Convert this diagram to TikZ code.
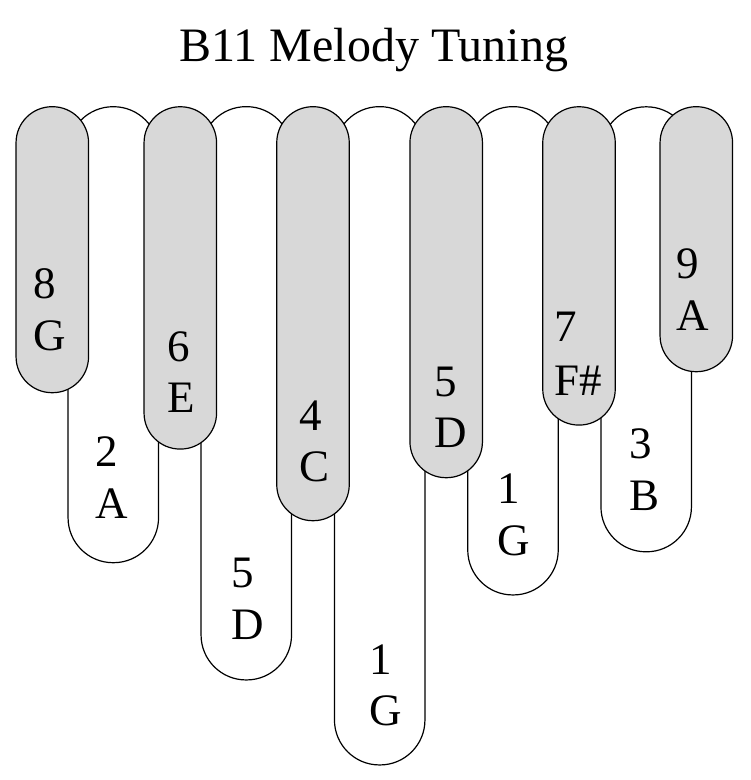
\documentclass[tikz,border=0pt]{standalone}
\usepackage{fontspec}
\setmainfont{Liberation Serif}
\definecolor{keygrey}{RGB}{216,216,216}
\begin{document}
\begin{tikzpicture}[x=1pt,y=-1pt,
  topkey/.style={draw=black, line width=1.2pt, fill=keygrey, rectangle, rounded corners=36pt, minimum width=72.5pt, inner sep=0pt, outer sep=0pt},
  lowkey/.style={draw=black, line width=1.2pt, fill=white, rectangle, rounded corners=45pt, minimum width=90.5pt, inner sep=0pt, outer sep=0pt},
  lbl/.style={anchor=base west, inner sep=0pt, outer sep=0pt, font=\fontsize{45}{54}\selectfont},
  ttl/.style={anchor=base, inner sep=0pt, font=\fontsize{48}{58}\selectfont}]
\useasboundingbox[fill=white] (0,0) rectangle (751,780);
% title
\node[ttl] (title) at (374,61.7) {B11 Melody Tuning};
% lower (white) keys
\node[lowkey, minimum height=456pt]   (w1) at (113.3,334.7) {};
\node[lowkey, minimum height=573.3pt] (w2) at (246.3,393.3) {};
\node[lowkey, minimum height=658.3pt] (w3) at (379.7,435.8) {};
\node[lowkey, minimum height=488.3pt] (w4) at (513,350.8) {};
\node[lowkey, minimum height=445pt]   (w5) at (646.2,329.3) {};
% upper (grey) keys
\node[topkey, minimum height=286pt]   (g1) at (52.3,249.7) {};
\node[topkey, minimum height=342.3pt] (g2) at (180.3,277.9) {};
\node[topkey, minimum height=414pt]   (g3) at (313,313.7) {};
\node[topkey, minimum height=371pt]   (g4) at (446.2,292.2) {};
\node[topkey, minimum height=318.3pt] (g5) at (579,265.9) {};
\node[topkey, minimum height=265pt]   (g6) at (696.3,239.2) {};
% labels on grey keys
\node[lbl] (g1n) at (34,298) {8};
\node[lbl] (g1l) at (34,350) {G};
\node[lbl] (g2n) at (167,361.7) {6};
\node[lbl] (g2l) at (167,412.7) {E};
\node[lbl] (g3n) at (299,430) {4};
\node[lbl] (g3l) at (299,481) {C};
\node[lbl] (g4n) at (434,396.7) {5};
\node[lbl] (g4l) at (434,447.3) {D};
\node[lbl] (g5n) at (554,341.7) {7};
\node[lbl] (g5l) at (554,395) {F\#};
\node[lbl] (g6n) at (676,278.3) {9};
\node[lbl] (g6l) at (676,330.7) {A};
% labels on white keys
\node[lbl] (w1n) at (95.5,466.7) {2};
\node[lbl] (w1l) at (95.5,518.3) {A};
\node[lbl] (w2n) at (231,587.3) {5};
\node[lbl] (w2l) at (231,639.3) {D};
\node[lbl] (w3n) at (369,674.3) {1};
\node[lbl] (w3l) at (369,725) {G};
\node[lbl] (w4n) at (497.5,503.3) {1};
\node[lbl] (w4l) at (497.5,555.5) {G};
\node[lbl] (w5n) at (629,458.3) {3};
\node[lbl] (w5l) at (629,510) {B};
\end{tikzpicture}
\end{document}
